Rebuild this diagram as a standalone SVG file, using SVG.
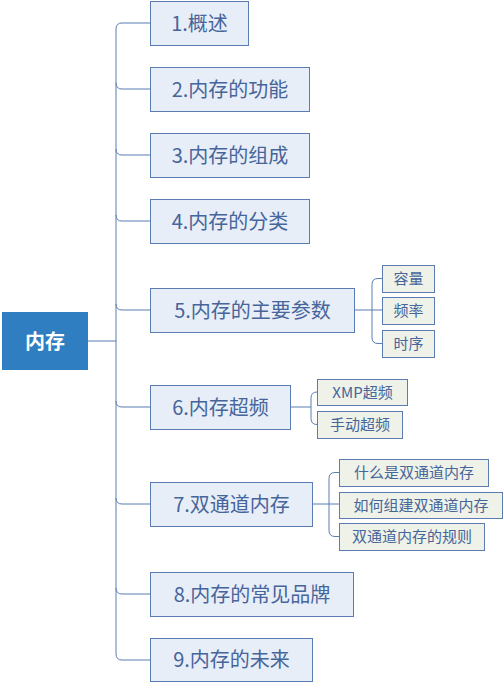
<svg xmlns="http://www.w3.org/2000/svg" width="504" height="683" viewBox="0 0 504 683">
<style>
.l1 rect{fill:#e8eef8;stroke:#5b7cb2;stroke-width:1}
.l1 text{font-family:"Noto Sans CJK SC","Microsoft YaHei",sans-serif;font-size:20px;fill:#46659a;text-anchor:middle}
.l2 rect{fill:#eef2e8;stroke:#5b7cb2;stroke-width:1}
.l2 text{font-family:"Noto Sans CJK SC",sans-serif;font-size:15px;fill:#46659a;text-anchor:middle}
.c path{fill:none;stroke:#5b7cb2;stroke-width:1}
</style>
<rect width="504" height="683" fill="#ffffff"/>
<g class="c" id="connectors">
<path d="M88,341 H116"/>
<path d="M150,23 H122 Q116,23 116,29 V654 Q116,660 122,660 H150"/>
<path d="M116,83 Q116,89 122,89 H150"/>
<path d="M116,149 Q116,155 122,155 H150"/>
<path d="M116,215 Q116,221 122,221 H150"/>
<path d="M116,304 Q116,310 122,310 H150"/>
<path d="M116,401 Q116,407 122,407 H150"/>
<path d="M116,498 Q116,504 122,504 H150"/>
<path d="M116,588 Q116,594 122,594 H150"/>
<path d="M354,310 H382"/>
<path d="M382,278.5 H378 Q372,278.5 372,284.5 V337.5 Q372,343.5 378,343.5 H382"/>
<path d="M290,407 H311"/>
<path d="M317,392 H317 Q311,392 311,398 V418.5 Q311,424.5 317,424.5"/>
<path d="M312,504 H339"/>
<path d="M339,472.5 H335 Q329,472.5 329,478.5 V530.5 Q329,536.5 335,536.5 H339"/>
</g>
<g id="root">
<rect x="2" y="312" width="86" height="58" fill="#2f7ec1"/>
<text x="45" y="348.5" font-family="Noto Sans CJK SC,sans-serif" font-size="20" font-weight="bold" fill="#ffffff" text-anchor="middle">内存</text>
</g>
<g class="l1" id="n1"><rect x="150.5" y="1.5" width="98" height="44"/><text x="199.5" y="30.5">1.概述</text></g>
<g class="l1" id="n2"><rect x="150.5" y="67.5" width="159" height="44"/><text x="230" y="96.5">2.内存的功能</text></g>
<g class="l1" id="n3"><rect x="150.5" y="133.5" width="159" height="44"/><text x="230" y="162.5">3.内存的组成</text></g>
<g class="l1" id="n4"><rect x="150.5" y="199.5" width="159" height="44"/><text x="230" y="228.5">4.内存的分类</text></g>
<g class="l1" id="n5"><rect x="150.5" y="288.5" width="204" height="44"/><text x="252.5" y="317.5">5.内存的主要参数</text></g>
<g class="l1" id="n6"><rect x="150.5" y="385.5" width="140" height="44"/><text x="220.5" y="414.5">6.内存超频</text></g>
<g class="l1" id="n7"><rect x="150.5" y="482.5" width="162" height="44"/><text x="231.5" y="511.5">7.双通道内存</text></g>
<g class="l1" id="n8"><rect x="150.5" y="572.5" width="203" height="44"/><text x="252" y="601.5">8.内存的常见品牌</text></g>
<g class="l1" id="n9"><rect x="150.5" y="638.5" width="162" height="43"/><text x="231.5" y="667">9.内存的未来</text></g>
<g class="l2" id="n5a"><rect x="382.5" y="265.5" width="52" height="27"/><text x="408.5" y="284">容量</text></g>
<g class="l2" id="n5b"><rect x="382.5" y="297.5" width="52" height="27"/><text x="408.5" y="316">频率</text></g>
<g class="l2" id="n5c"><rect x="382.5" y="330.5" width="52" height="27"/><text x="408.5" y="349">时序</text></g>
<g class="l2" id="n6a"><rect x="317.5" y="379.5" width="90" height="26"/><text x="362.5" y="397.5">XMP超频</text></g>
<g class="l2" id="n6b"><rect x="317.5" y="411.5" width="85" height="27"/><text x="360" y="430">手动超频</text></g>
<g class="l2" id="n7a"><rect x="339.5" y="459.5" width="149" height="27"/><text x="414" y="478">什么是双通道内存</text></g>
<g class="l2" id="n7b"><rect x="339.5" y="492.5" width="163" height="26"/><text x="421" y="510.5">如何组建双通道内存</text></g>
<g class="l2" id="n7c"><rect x="339.5" y="523.5" width="145" height="27"/><text x="412" y="542">双通道内存的规则</text></g>
</svg>
